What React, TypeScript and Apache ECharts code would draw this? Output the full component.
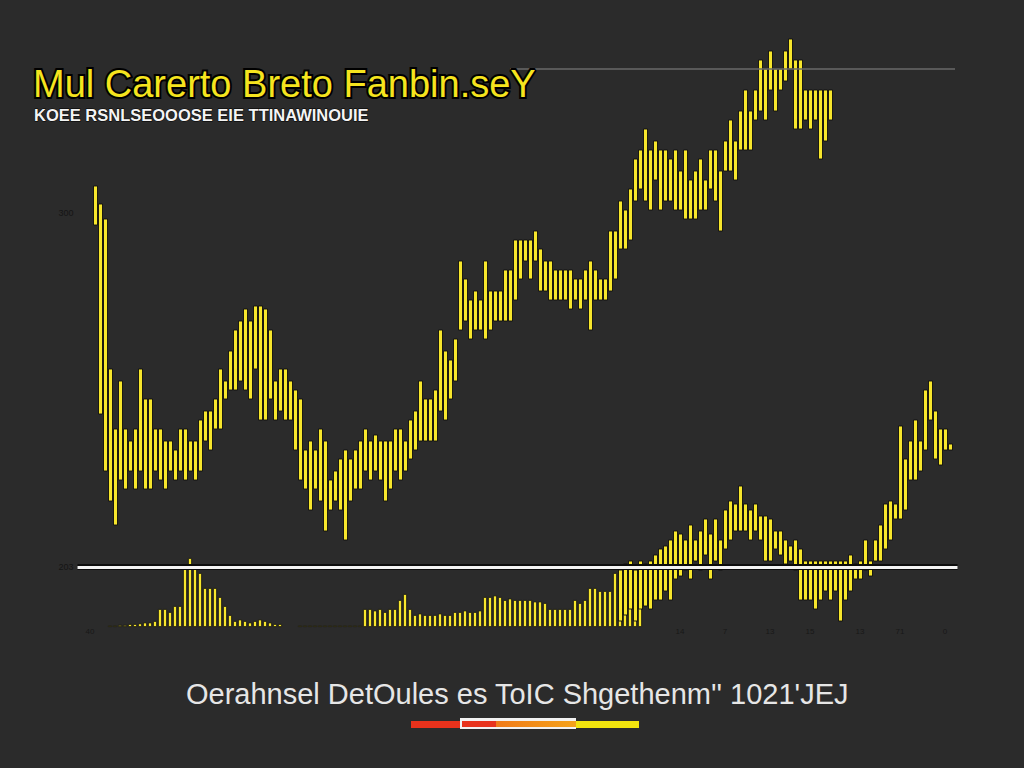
import React, { useEffect, useRef } from "react";
import * as echarts from "echarts";

const CATEGORY_COUNT = 176;
const categories = Array.from({ length: CATEGORY_COUNT }, (_, i) => String(i + 1));

// Main upper series: starts at category index 3
const MAIN_START = 3;
const mainLow = [134,71,52,42,34,49,46,52,46,52,46,46,52,49,46,52,49,52,49,52,49,52,62,59,66,66,76,79,79,82,79,76,86,69,69,76,69,72,69,69,59,49,46,39,46,42,32,39,42,39,29,42,46,46,52,49,52,49,42,46,52,49,52,56,59,62,62,62,62,72,69,76,82,99,102,96,99,99,96,99,102,102,102,102,109,116,122,116,122,112,112,109,109,109,109,106,109,106,109,99,109,109,109,112,116,126,126,129,142,146,142,139,149,139,142,142,139,139,136,136,136,139,139,146,142,132,152,152,149,159,159,159,169,172,169,179,172,179,182,186,166,166,169,166,169,156,162,169];
const mainHigh = [147,141,136,86,66,82,66,62,66,86,76,76,66,66,62,62,59,66,66,62,62,69,72,72,76,86,82,92,99,102,106,102,107,107,106,99,82,86,86,82,79,76,59,62,59,66,62,49,52,56,59,56,59,62,66,62,64,62,62,62,66,66,62,69,72,82,76,76,79,99,92,89,96,122,116,109,112,109,122,112,112,112,119,119,129,129,129,129,132,126,122,122,119,119,119,119,116,116,119,122,119,116,116,132,132,142,139,146,156,159,166,159,162,159,159,156,159,152,159,149,152,156,149,159,159,152,162,169,162,172,179,172,179,189,186,192,186,186,192,196,189,189,179,179,179,179,179,179];

// Lower right series: starts at category index 108
const SECOND_START = 108;
const secondLow = [2,4,6,2,6,7,6,9,9,12,9,16,17,19,16,22,19,24,16,22,19,26,29,32,32,32,29,32,29,22,22,26,24,21,22,19,9,9,9,6,9,12,9,12,2,9,12,16,16,19,17,22,22,26,29,36,36,39,49,49,52,59,69,56,54,59,59];
const secondHigh = [19,21,22,19,22,21,22,24,26,27,29,32,31,29,34,29,32,36,31,36,29,39,42,41,47,41,39,41,37,37,36,32,32,29,27,29,26,22,22,22,22,22,22,22,22,22,24,21,22,29,22,29,34,41,42,41,67,56,62,69,62,79,82,72,66,66,61];

// Volume bars: start at category index 6
const VOLUME_START = 6;
const volume = [0.5,0.5,0.7,0.7,1,1,1.2,1.5,1.5,2,6,6,5,7,7,20,23,20,18,13,13,13,10,7,4,2,2.5,2,1.5,2,2.5,2,1.5,1,1,null,null,null,0.5,0.5,0.5,0.5,0.5,0.5,0.5,0.5,0.5,0.5,0.5,0.5,0.5,6,6,5.5,6,5,6,6,9,11,6,4,4.5,4,4,4,4.5,4,4,5,5,5.5,5,5,5.5,10,10,10.5,10,9,9.5,9,9,9,9,8.5,8.5,8,6,6,6,6,6,9,8,9,13,13,12,12,12,18,18,18,18,17,8];

const referenceLevel = 20;
const upperLevel = 186;
const upperLevelStart = 86;

const yTickValues = [20, 138];
const yTickLabels = ["203", "300"];
const xTickIndex = [2, 120, 129, 138, 146, 156, 164, 173];
const xTickLabels = ["40", "14", "7", "13", "15", "13", "71", "0"];

const titleText = "Mul Carerto Breto Fanbin.seY";
const subtitleText = "KOEE RSNLSEOOOSE EIE TTINAWINOUIE";
const footerText = "Oerahnsel DetOules es ToIC Shgethenm'' 1021'JEJ";

const YELLOW = "#f7e62c";

function toCandles(start: number, low: number[], high: number[]) {
  const out: any[] = [];
  for (let i = 0; i < CATEGORY_COUNT; i++) {
    const k = i - start;
    if (k >= 0 && k < low.length) {
      out.push(k % 2 === 0 ? [low[k], high[k], low[k], high[k]] : [high[k], low[k], low[k], high[k]]);
    } else {
      out.push("-");
    }
  }
  return out;
}

function toBars(start: number, vals: (number | null)[]) {
  const out: any[] = [];
  for (let i = 0; i < CATEGORY_COUNT; i++) {
    const k = i - start;
    out.push(k >= 0 && k < vals.length && vals[k] != null ? vals[k] : "-");
  }
  return out;
}

export default function App() {
  const ref = useRef<HTMLDivElement>(null);
  useEffect(() => {
    if (!ref.current) return;
    const chart = echarts.init(ref.current, null, { renderer: "svg" });
    const candleStyle = {
      color: YELLOW,
      color0: YELLOW,
      borderColor: "#0d0d0d",
      borderColor0: "#0d0d0d",
      borderWidth: 0.9,
    };
    chart.setOption({
      animation: false,
      backgroundColor: "#2b2b2b",
      title: [
        {
          text: titleText,
          left: 28,
          top: 60,
          textStyle: {
            color: "#f5e41e",
            fontSize: 38,
            fontWeight: "normal",
            fontFamily: "Liberation Sans",
            textBorderColor: "#000",
            textBorderWidth: 4,
          },
        },
        {
          text: subtitleText,
          left: 29,
          top: 101,
          textStyle: {
            color: "#f4f4f4",
            fontSize: 16.5,
            fontWeight: "bold",
            fontFamily: "Liberation Sans",
            textBorderColor: "#000",
            textBorderWidth: 1,
          },
        },
        {
          text: footerText,
          left: 181,
          top: 674,
          textStyle: {
            color: "#e6e6e6",
            fontSize: 29,
            fontWeight: "normal",
            fontFamily: "Liberation Sans",
          },
        },
      ],
      grid: { left: 77.5, right: 66.5, top: 27, bottom: 141 },
      xAxis: {
        type: "category",
        data: categories,
        boundaryGap: true,
        axisLine: { show: false },
        axisTick: { show: false },
        splitLine: { show: false },
        axisLabel: {
          interval: (index: number) => xTickIndex.indexOf(index) >= 0,
          formatter: (_v: string, index: number) => {
            const p = xTickIndex.indexOf(index);
            return p >= 0 ? xTickLabels[p] : "";
          },
          color: "#181818",
          fontSize: 8,
          margin: 0,
          fontFamily: "Liberation Sans",
        },
      },
      yAxis: {
        type: "value",
        min: 0,
        max: 200,
        axisLine: { show: false },
        axisTick: { show: false },
        splitLine: { show: false },
        axisLabel: {
          customValues: yTickValues,
          formatter: (v: number) => {
            const p = yTickValues.indexOf(v);
            return p >= 0 ? yTickLabels[p] : "";
          },
          color: "#151515",
          fontSize: 9,
          margin: 4,
          fontFamily: "Liberation Sans",
        },
      },
      series: [
        {
          type: "bar",
          name: "volume",
          data: toBars(VOLUME_START, volume),
          barWidth: 4,
          z: 2,
          itemStyle: { color: YELLOW, borderColor: "#111", borderWidth: 0.8 },
          markLine: {
            silent: true,
            symbol: "none",
            label: { show: false },
            data: [
              { yAxis: referenceLevel, lineStyle: { color: "#0c0c0c", width: 6, type: "solid" } },
              { yAxis: referenceLevel, lineStyle: { color: "#f2f2f2", width: 3, type: "solid" } },
              [
                { coord: [categories[upperLevelStart], upperLevel], lineStyle: { color: "#6a6a6a", width: 1.5, type: "solid" } },
                { coord: [categories[CATEGORY_COUNT - 1], upperLevel] },
              ],
            ],
          },
        },
        {
          type: "candlestick",
          name: "main",
          data: toCandles(MAIN_START, mainLow, mainHigh),
          barWidth: 4.5,
          z: 3,
          itemStyle: candleStyle,
        },
        {
          type: "candlestick",
          name: "second",
          data: toCandles(SECOND_START, secondLow, secondHigh),
          barWidth: 4.5,
          z: 4,
          itemStyle: candleStyle,
        },
      ],
      graphic: [
        { type: "rect", left: 411, top: 721, shape: { width: 85, height: 7 }, style: { fill: "#e8321c" } },
        {
          type: "rect",
          left: 460,
          top: 718,
          shape: { width: 116, height: 11 },
          style: { fill: "#f1f1f1" },
        },
        { type: "rect", left: 462, top: 721, shape: { width: 34, height: 6 }, style: { fill: "#e8321c" } },
        {
          type: "rect",
          left: 496,
          top: 721,
          shape: { width: 80, height: 6 },
          style: {
            fill: new echarts.graphic.LinearGradient(0, 0, 1, 0, [
              { offset: 0, color: "#f07a18" },
              { offset: 1, color: "#f5a21a" },
            ]),
          },
        },
        { type: "rect", left: 576, top: 721, shape: { width: 63, height: 7 }, style: { fill: "#f2e40e" } },
      ],
    });
    return () => chart.dispose();
  }, []);
  return (
    <div
      ref={ref}
      style={{ position: "absolute", left: 0, top: 0, width: 1024, height: 768 }}
    />
  );
}
